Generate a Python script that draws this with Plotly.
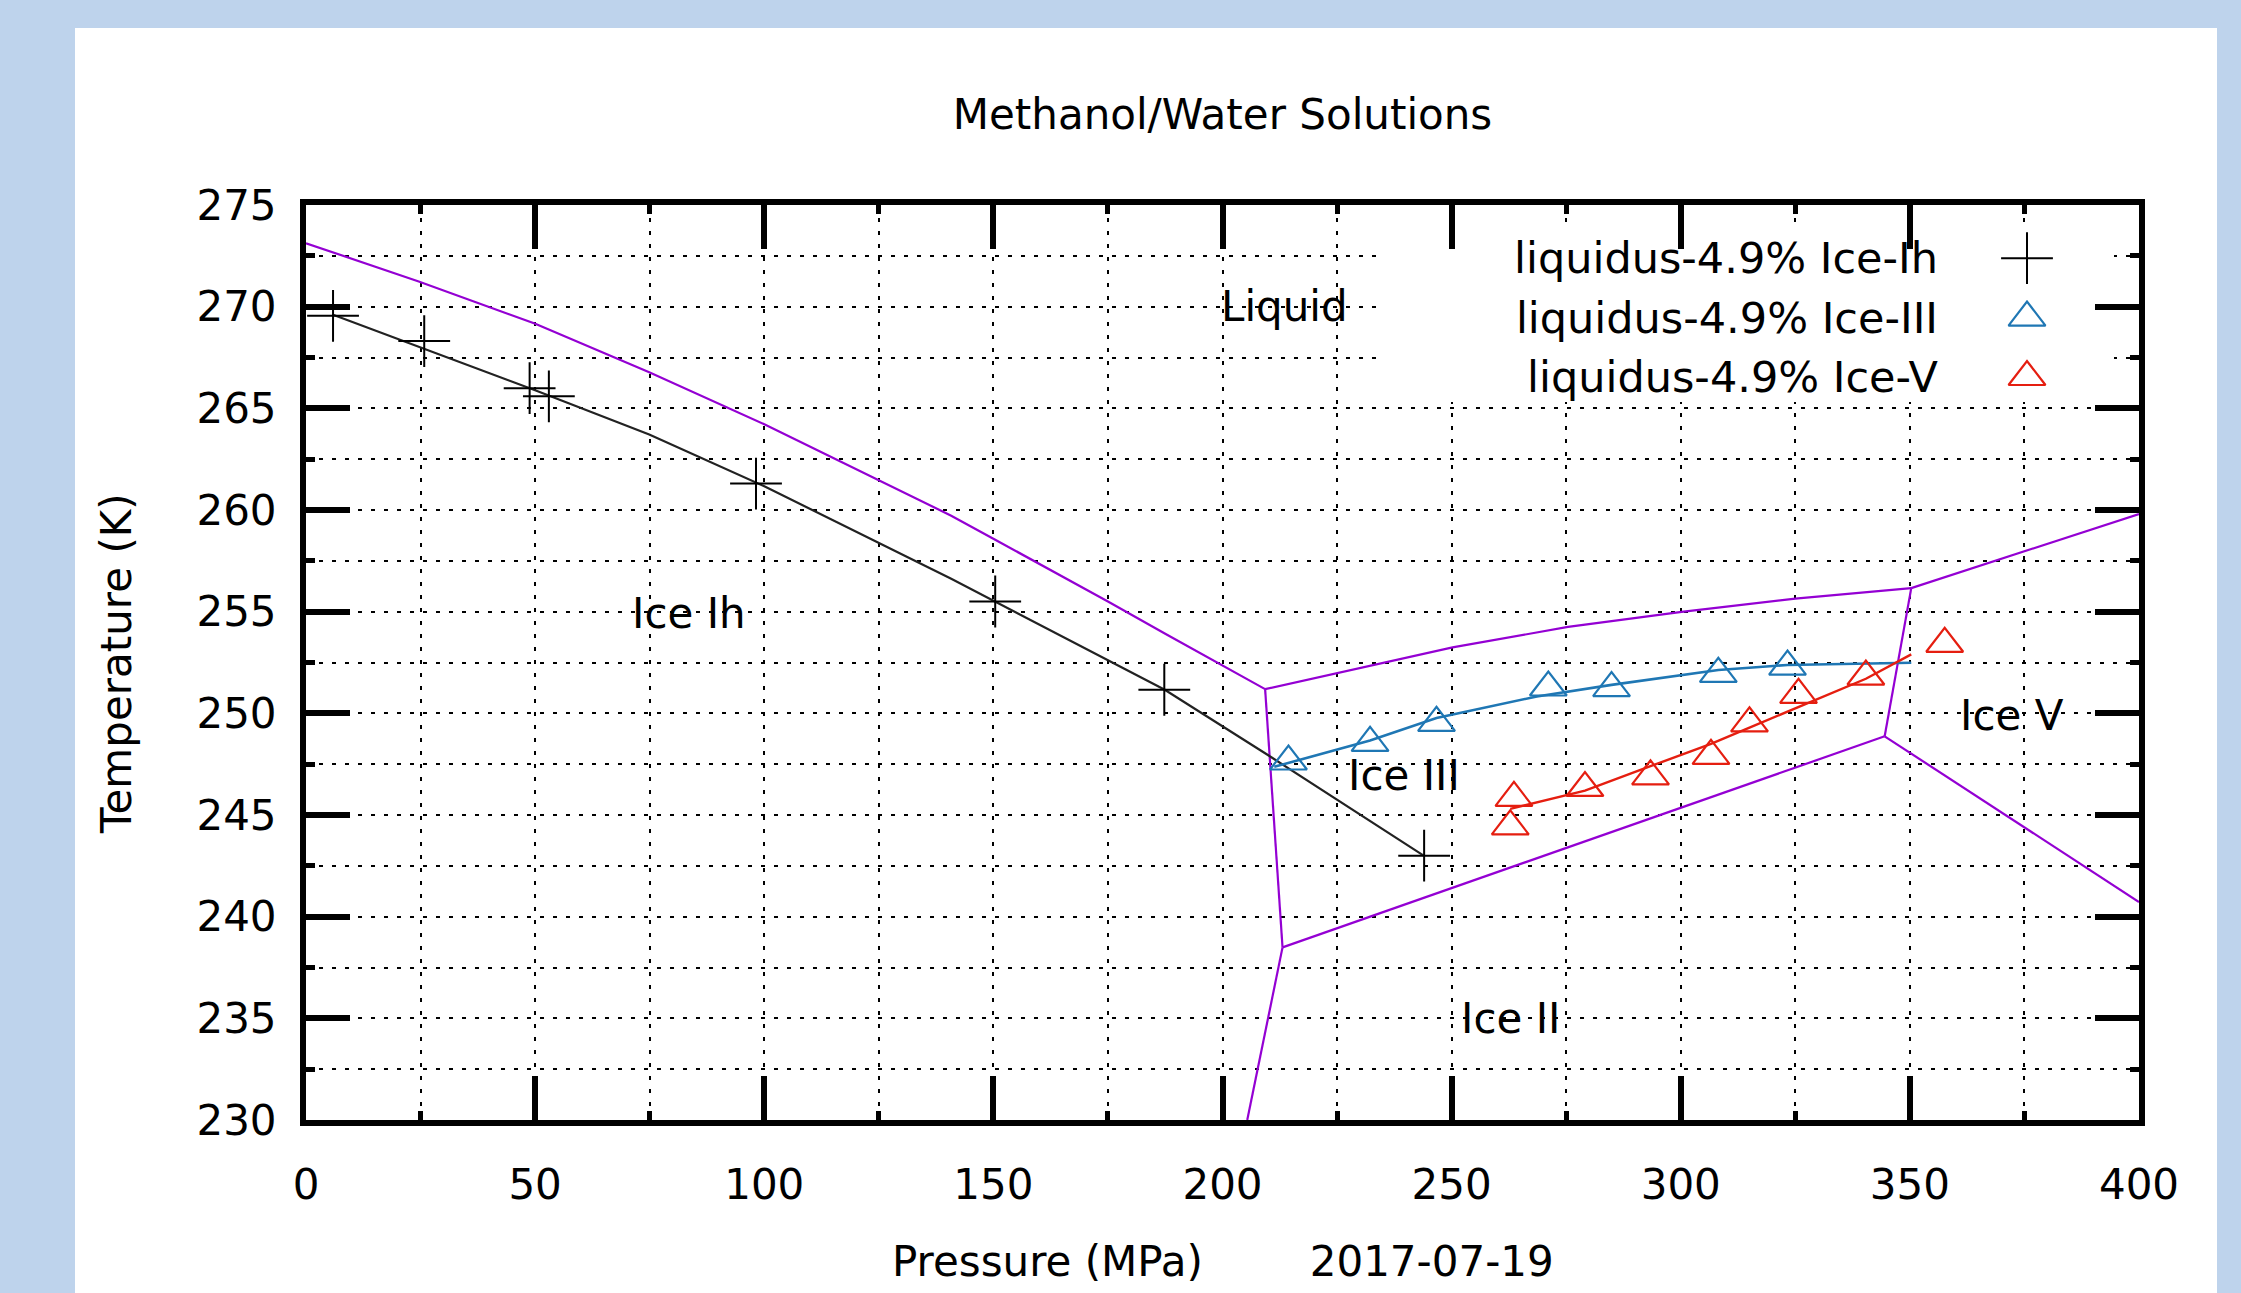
import plotly.graph_objects as go

# ---------------- data ----------------
# measured liquidus points (pressure MPa, temperature K)
ih_P = [5.9, 25.8, 48.8, 53.0, 98.2, 150.4, 187.3, 244.0]
ih_T = [269.55, 268.31, 265.99, 265.59, 261.30, 255.5, 251.16, 243.0]

iii_P = [214.4, 232.2, 246.7, 271.1, 284.9, 308.2, 323.3]
iii_T = [247.63, 248.55, 249.53, 251.27, 251.24, 251.94, 252.30]

v_P = [262.8, 263.6, 279.1, 293.4, 306.6, 315.0, 325.7, 340.4, 357.6]
v_T = [244.44, 245.84, 246.33, 246.9, 247.91, 249.51, 250.91, 251.81, 253.42]

# fitted liquidus curves
ih_fit_P = [5.9, 50.0, 74.9, 99.9, 140.8, 174.5, 187.4, 209.9, 243.9]
ih_fit_T = [269.6, 265.89, 263.71, 261.18, 256.62, 252.7, 251.16, 247.95, 243.0]

iii_fit_P = [211.3, 232.2, 246.7, 268.6, 284.9, 308.2, 323.3, 350.3]
iii_fit_T = [247.37, 248.66, 249.77, 250.83, 251.40, 252.13, 252.38, 252.49]

v_fit_P = [262.8, 279.1, 293.4, 306.6, 315.0, 325.7, 340.4, 350.3]
v_fit_T = [245.3, 246.2, 247.4, 248.5, 249.3, 250.3, 251.7, 252.9]

# pure-water phase boundaries
ih_liq_P = [0.0, 24.6, 49.9, 74.9, 99.9, 140.8, 150.3, 175.0, 187.6, 209.3]
ih_liq_T = [273.12, 271.24, 269.17, 266.77, 264.23, 259.72, 258.55, 255.5, 253.9, 251.19]
ih_iii_P = [209.3, 213.1]
ih_iii_T = [251.19, 238.49]
ih_ii_P = [213.1, 205.4]
ih_ii_T = [238.49, 230.0]
iii_liq_P = [209.3, 250.2, 275.4, 300.2, 325.0, 350.3]
iii_liq_T = [251.19, 253.24, 254.25, 254.99, 255.64, 256.16]
iii_ii_P = [213.1, 344.5]
iii_ii_T = [238.49, 248.87]
iii_v_P = [344.5, 350.3]
iii_v_T = [248.87, 256.16]
v_liq_P = [350.3, 400.0]
v_liq_T = [256.16, 259.8]
ii_v_P = [344.5, 400.0]
ii_v_T = [248.87, 240.72]

boundaries = [
    (ih_liq_P, ih_liq_T), (ih_iii_P, ih_iii_T), (ih_ii_P, ih_ii_T),
    (iii_liq_P, iii_liq_T), (iii_ii_P, iii_ii_T), (iii_v_P, iii_v_T),
    (v_liq_P, v_liq_T), (ii_v_P, ii_v_T),
]

region_names = ["Liquid", "Ice Ih", "Ice III", "Ice V", "Ice II"]
region_P = [213.5, 83.5, 239.7, 372.2, 262.8]
region_T = [270.0, 254.9, 246.95, 249.9, 235.0]

series_names = ["liquidus-4.9% Ice-Ih", "liquidus-4.9% Ice-III", "liquidus-4.9% Ice-V"]

x_range = [0, 400]
y_range = [230, 275]
x_ticks = [0, 50, 100, 150, 200, 250, 300, 350, 400]
y_ticks = [230, 235, 240, 245, 250, 255, 260, 265, 270, 275]

# ---------------- styling ----------------
FONT = "DejaVu Sans"
FS = 42
PURPLE = "#9400d3"
BLUE = "#1f77b4"
RED = "#e51e10"
BLACK = "#000000"

W, H = 2241, 1293
ML, MR, MT, MB = 306, 102, 205, 173
PW = W - ML - MR
PH = H - MT - MB


def px_x(p):
    return (p - ML) / PW


def px_y(p):
    return (H - MB - p) / PH


def px_to_P(p):
    return x_range[0] + px_x(p) * (x_range[1] - x_range[0])


def px_to_T(p):
    return y_range[0] + px_y(p) * (y_range[1] - y_range[0])


fig = go.Figure()

for bp, bt in boundaries:
    fig.add_trace(go.Scatter(x=bp, y=bt, mode="lines",
                             line=dict(color=PURPLE, width=2.2), hoverinfo="skip"))

fig.add_trace(go.Scatter(x=ih_fit_P, y=ih_fit_T, mode="lines",
                         line=dict(color="#222222", width=2.2), hoverinfo="skip"))
fig.add_trace(go.Scatter(x=iii_fit_P, y=iii_fit_T, mode="lines",
                         line=dict(color=BLUE, width=2.6), hoverinfo="skip"))
fig.add_trace(go.Scatter(x=v_fit_P, y=v_fit_T, mode="lines",
                         line=dict(color=RED, width=2.4), hoverinfo="skip"))

marker_styles = [
    dict(symbol="cross-thin", size=37, color=BLACK, line=dict(width=2, color=BLACK)),
    dict(symbol="triangle-up-open", size=32, color=BLUE, line=dict(width=2.2, color=BLUE)),
    dict(symbol="triangle-up-open", size=32, color=RED, line=dict(width=2.2, color=RED)),
]
for name, xs, ys, ms in zip(series_names, [ih_P, iii_P, v_P], [ih_T, iii_T, v_T], marker_styles):
    fig.add_trace(go.Scatter(x=xs, y=ys, mode="markers", name=name, marker=ms))

# legend keys (gnuplot style: text left, sample right) on a small helper axis
for name, ms in zip(series_names, marker_styles):
    fig.add_trace(go.Scatter(x=[0], y=[name], mode="markers", marker=ms,
                             xaxis="x3", yaxis="y3", hoverinfo="skip"))

annotations = []
for n, p, t in zip(region_names, region_P, region_T):
    annotations.append(dict(x=p, y=t, xref="x", yref="y", text=n, showarrow=False,
                            font=dict(family=FONT, size=FS, color=BLACK),
                            xanchor="center", yanchor="middle"))
annotations.append(dict(x=0.5, y=px_y(1261), xref="paper", yref="paper",
                        text="Pressure (MPa)" + "\u00a0" * 8 + "2017-07-19",
                        showarrow=False, font=dict(family=FONT, size=FS, color=BLACK),
                        xanchor="center", yanchor="middle"))
annotations.append(dict(x=px_x(116), y=px_y(664), xref="paper", yref="paper",
                        text="Temperature (K)", textangle=-90,
                        showarrow=False, font=dict(family=FONT, size=FS, color=BLACK),
                        xanchor="center", yanchor="middle"))

shapes = [
    # white page panel
    dict(type="rect", xref="paper", yref="paper",
         x0=px_x(75), x1=px_x(2217), y0=px_y(1400), y1=px_y(28),
         fillcolor="white", line=dict(width=0), layer="below"),
    # opaque key box (hides the grid, stays under ticks and traces)
    dict(type="rect", xref="x", yref="y",
         x0=px_to_P(1382), x1=px_to_P(2114),
         y0=px_to_T(402), y1=px_to_T(225),
         fillcolor="white", line=dict(width=0), layer="between"),
]

grid_dash = "4px,9px"
common_axis = dict(
    showline=True, linewidth=6, linecolor=BLACK, mirror="allticks",
    ticks="inside", ticklen=44, tickwidth=6, tickcolor=BLACK,
    showgrid=True, gridcolor=BLACK, gridwidth=2.3, griddash=grid_dash,
    zeroline=False,
    tickfont=dict(family=FONT, size=FS, color=BLACK),
)

fig.update_layout(
    width=W, height=H,
    margin=dict(l=ML, r=MR, t=MT, b=MB, pad=0),
    paper_bgcolor="#bed3ec",
    plot_bgcolor="rgba(0,0,0,0)",
    showlegend=False,
    title=dict(text="Methanol/Water Solutions", x=0.5, xref="paper", xanchor="center",
               y=1 - 114 / H, yref="container", yanchor="middle",
               font=dict(family=FONT, size=FS, color=BLACK)),
    xaxis=dict(range=x_range, tickvals=x_ticks, ticklabelstandoff=23,
               minor=dict(dtick=25, tick0=0, ticks="inside", ticklen=9, tickwidth=5,
                          tickcolor=BLACK, showgrid=True, gridcolor=BLACK,
                          gridwidth=2.3, griddash=grid_dash),
               **common_axis),
    yaxis=dict(range=y_range, tickvals=y_ticks, ticklabelstandoff=15,
               minor=dict(dtick=2.5, tick0=230, ticks="inside", ticklen=9, tickwidth=5,
                          tickcolor=BLACK, showgrid=True, gridcolor=BLACK,
                          gridwidth=2.3, griddash=grid_dash),
               **common_axis),
    xaxis3=dict(domain=[(1939 - ML) / PW, (2115 - ML) / PW], range=[-1, 1],
                anchor="y3", visible=False, fixedrange=True),
    yaxis3=dict(domain=[(H - MB - 406) / PH, (H - MB - 226) / PH], anchor="x3",
                type="category", categoryorder="array", categoryarray=series_names,
                autorange="reversed", showgrid=False, zeroline=False, showline=False,
                ticks="", ticklabelstandoff=0, fixedrange=True,
                tickfont=dict(family=FONT, size=43, color=BLACK)),
    annotations=annotations,
    shapes=shapes,
)

fig.write_html("out.html")
